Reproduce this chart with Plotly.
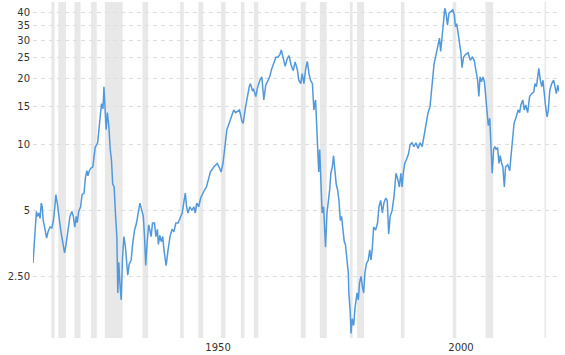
import plotly.graph_objects as go

years = [
    1914.8, 1915.15, 1915.5, 1915.7, 1916.0, 1916.25, 1916.5, 1916.7, 1916.9, 1917.3, 1917.6, 1917.9,
    1918.3, 1918.7, 1919.0, 1919.3, 1919.5, 1919.8, 1920.1, 1920.5, 1920.9, 1921.3, 1921.6, 1922.0,
    1922.4, 1922.8, 1923.1, 1923.4, 1923.7, 1923.9, 1924.2, 1924.6, 1924.9, 1925.3, 1925.6, 1925.9,
    1926.1, 1926.4, 1926.7, 1927.1, 1927.4, 1927.6, 1928.1, 1928.3, 1928.6, 1928.9, 1929.2, 1929.4,
    1929.6, 1929.85, 1930.1, 1930.4, 1930.7, 1930.95, 1931.2, 1931.5, 1931.8, 1932.06, 1932.25, 1932.45,
    1932.7, 1932.95, 1933.2, 1933.35, 1933.5, 1933.8, 1934.0, 1934.3, 1934.6, 1935.0, 1935.3, 1935.7,
    1936.1, 1936.5, 1936.8, 1937.1, 1937.5, 1937.75, 1938.0, 1938.3, 1938.6, 1938.85, 1939.1, 1939.4,
    1939.8, 1940.1, 1940.4, 1940.6, 1940.9, 1941.2, 1941.5, 1941.75, 1942.2, 1942.6, 1943.0, 1943.4,
    1943.8, 1944.2, 1944.65, 1945.05, 1945.5, 1945.9, 1946.15, 1946.4, 1946.7, 1947.1, 1947.5, 1947.9,
    1948.2, 1948.5, 1948.9, 1949.3, 1949.7, 1950.1, 1950.5, 1950.95, 1951.3, 1952.0, 1952.7, 1953.1,
    1953.5, 1953.9, 1954.3, 1954.7, 1955.15, 1955.55, 1956.1, 1956.5, 1956.9, 1957.3, 1957.8, 1958.05,
    1958.45, 1958.9, 1959.3, 1959.55, 1959.95, 1960.2, 1960.65, 1961.05, 1961.5, 1961.9, 1962.3, 1962.7,
    1963.1, 1963.5, 1963.95, 1964.35, 1964.8, 1965.2, 1965.6, 1965.9, 1966.3, 1966.7, 1967.1, 1967.5,
    1967.9, 1968.35, 1968.75, 1969.2, 1969.5, 1969.9, 1970.2, 1970.55, 1970.9, 1971.25, 1971.6, 1971.9,
    1972.3, 1972.6, 1972.95, 1973.2, 1973.35, 1973.6, 1973.8, 1974.05, 1974.3, 1974.6, 1974.9, 1975.0,
    1975.3, 1975.55, 1975.85, 1976.1, 1976.4, 1976.65, 1976.9, 1977.2, 1977.5, 1977.75, 1978.05, 1978.3,
    1978.6, 1978.85, 1979.1, 1979.4, 1979.7, 1979.8, 1980.1, 1980.25, 1980.5, 1980.8, 1981.05, 1981.5,
    1981.75, 1982.0, 1982.3, 1982.6, 1982.85, 1983.1, 1983.4, 1983.8, 1984.1, 1984.35, 1984.6, 1984.9,
    1985.3, 1985.7, 1986.0, 1986.35, 1986.7, 1987.0, 1987.4, 1987.7, 1988.0, 1988.3, 1988.7, 1989.1,
    1989.5, 1989.9, 1990.2, 1990.5, 1990.75, 1991.0, 1991.3, 1991.7, 1992.1, 1992.4, 1992.8, 1993.2,
    1993.6, 1994.05, 1994.45, 1994.9, 1995.3, 1995.7, 1996.1, 1996.5, 1996.9, 1997.35, 1997.75, 1998.2,
    1998.45, 1998.7, 1999.0, 1999.3, 1999.55, 1999.8, 2000.1, 2000.4, 2000.8, 2001.2, 2001.5, 2001.75,
    2002.0, 2002.3, 2002.6, 2002.85, 2003.1, 2003.4, 2003.8, 2004.35, 2004.8, 2005.2, 2005.6, 2006.0,
    2006.3, 2006.55, 2006.8, 2007.1, 2007.4, 2007.7, 2007.95, 2008.2, 2008.5, 2008.8, 2009.0, 2009.3,
    2009.6, 2009.85, 2010.1, 2010.4, 2010.7, 2010.95, 2011.25, 2011.5, 2011.8, 2012.05, 2012.5, 2012.9,
    2013.3, 2013.55, 2013.8, 2014.25, 2014.65, 2014.95, 2015.2, 2015.6, 2015.9, 2016.2, 2016.6, 2017.0,
    2017.4, 2017.85, 2018.1, 2018.4, 2018.65, 2018.9, 2019.2, 2019.5, 2019.75, 2020.0, 2020.3, 2020.6,
    2020.85, 2021.15, 2021.55, 2021.95, 2022.2, 2022.5, 2022.8, 2023.05,
]

ratio = [
    2.88, 3.74, 4.95, 4.7, 4.87, 4.6, 5.4, 5.2, 4.5, 4.07, 3.74, 4.0,
    4.2, 4.16, 4.5, 5.2, 5.9, 5.4, 4.7, 4.07, 3.6, 3.2, 3.5, 4.2,
    4.7, 4.95, 4.7, 4.2, 4.7, 4.4, 4.95, 5.2, 5.9, 6.0, 7.1, 7.6,
    7.2, 7.6, 7.8, 7.9, 8.9, 9.7, 10.2, 11.1, 13.2, 15.4, 14.6, 18.4,
    15.4, 11.7, 14.0, 12.2, 9.5, 8.5, 6.6, 6.4, 4.7, 3.8, 2.1, 2.9,
    2.3, 1.95, 2.97, 3.6, 3.8, 3.44, 2.97, 2.53, 2.84, 2.97, 3.5, 4.07,
    4.38, 5.0, 5.4, 5.1, 4.7, 3.8, 2.8, 3.6, 4.3, 4.07, 3.8, 4.38,
    4.38, 3.8, 4.1, 3.5, 3.85, 3.6, 3.8, 3.3, 2.8, 3.3, 3.8, 4.1,
    4.0, 4.38, 4.38, 4.6, 4.87, 5.56, 6.0, 5.2, 4.87, 5.2, 5.0, 5.2,
    4.87, 5.4, 5.2, 5.7, 6.0, 6.2, 6.4, 6.9, 7.5, 7.9, 8.2, 7.9,
    7.5, 8.2, 9.8, 11.7, 12.5, 13.4, 14.4, 14.0, 14.2, 14.4, 12.8, 12.5,
    14.4, 16.6, 18.4, 19.0, 17.7, 17.9, 16.6, 18.4, 19.7, 20.4, 16.0, 18.7,
    19.7, 20.4, 22.3, 23.5, 25.1, 25.1, 25.8, 27.1, 25.1, 22.8, 24.7, 25.5,
    23.2, 21.8, 23.9, 22.0, 19.7, 19.0, 21.1, 19.0, 22.0, 24.0, 21.1, 19.7,
    19.0, 14.4, 16.0, 12.2, 10.3, 7.5, 9.5, 6.4, 4.87, 5.2, 3.9, 3.4,
    4.87, 5.4, 6.2, 7.4, 7.9, 8.9, 7.4, 6.6, 6.2, 5.6, 4.5, 4.7,
    4.07, 3.6, 3.5, 3.05, 2.58, 2.1, 1.70, 1.37, 1.6, 1.49, 1.78, 2.1,
    1.95, 2.33, 2.5, 2.24, 2.1, 2.58, 2.85, 2.97, 3.3, 2.97, 3.3, 4.2,
    4.07, 4.38, 5.2, 5.56, 4.87, 5.4, 5.7, 5.56, 3.9, 4.7, 5.0, 5.8,
    7.4, 6.9, 6.4, 7.4, 6.4, 7.4, 8.2, 8.6, 9.1, 10.0, 10.2, 9.8,
    10.2, 9.6, 10.2, 9.8, 10.9, 12.2, 14.0, 14.9, 18.4, 23.5, 25.8, 29.1,
    30.7, 26.7, 32.3, 37.1, 42.0, 39.9, 35.2, 39.9, 40.5, 41.3, 39.2, 34.6,
    35.7, 32.3, 29.1, 26.5, 22.5, 25.1, 25.8, 26.3, 24.3, 25.1, 24.3, 22.0,
    19.7, 16.6, 20.4, 19.4, 20.4, 19.4, 16.6, 14.0, 12.2, 13.2, 10.2, 7.4,
    9.5, 9.8, 9.5, 9.7, 8.2, 8.9, 8.2, 7.9, 6.4, 7.9, 8.1, 7.6,
    9.5, 10.9, 12.5, 13.4, 14.4, 14.0, 15.2, 16.0, 14.4, 15.2, 14.0, 16.6,
    17.1, 17.4, 19.0, 18.4, 20.4, 22.3, 19.7, 18.4, 19.7, 17.1, 14.9, 13.4,
    14.4, 17.7, 19.0, 19.7, 18.7, 17.1, 18.7, 17.5,
]

recession_start = [1918.58, 1920.0, 1923.33, 1926.75, 1929.58, 1937.33, 1945.08, 1948.83, 1953.5,
                   1957.58, 1960.25, 1969.92, 1973.83, 1980.0, 1981.5, 1990.5, 2001.17, 2007.92, 2020.08]
recession_end = [1919.25, 1921.58, 1924.58, 1927.92, 1933.25, 1938.5, 1945.83, 1949.83, 1954.42,
                 1958.33, 1961.17, 1970.92, 1975.25, 1980.58, 1982.92, 1991.25, 2001.92, 2009.5, 2020.4]

y_tickvals = [2.5, 5, 10, 15, 20, 25, 30, 35, 40]
y_ticktext = ["2.50", "5", "10", "15", "20", "25", "30", "35", "40"]
x_tickvals = [1950, 2000]
x_ticktext = ["1950", "2000"]

fig = go.Figure()

for s, e in zip(recession_start, recession_end):
    fig.add_vrect(x0=s, x1=e, fillcolor="#e8e8e8", opacity=1, line_width=0, layer="below")

fig.add_trace(go.Scatter(
    x=years, y=ratio, mode="lines",
    line=dict(color="#5299dc", width=1.5),
    hoverinfo="skip", showlegend=False,
))

fig.update_layout(
    width=565, height=355,
    margin=dict(l=33, r=6, t=2, b=17),
    paper_bgcolor="white", plot_bgcolor="white",
    font=dict(family="DejaVu Sans", size=10, color="#333333"),
    xaxis=dict(
        range=[1914.8, 2023.05], showgrid=False, zeroline=False, showline=False,
        tickvals=x_tickvals, ticktext=x_ticktext, ticks="",
        ticklabelshift=14, ticklabelstandoff=2,
    ),
    yaxis=dict(
        type="log", range=[0.116, 1.652],
        tickvals=y_tickvals, ticktext=y_ticktext, ticks="",
        showgrid=True, gridcolor="#dedede", gridwidth=1, griddash="4px,4px",
        zeroline=False, showline=False, ticklabelstandoff=2,
    ),
)

fig.write_html("out.html")
